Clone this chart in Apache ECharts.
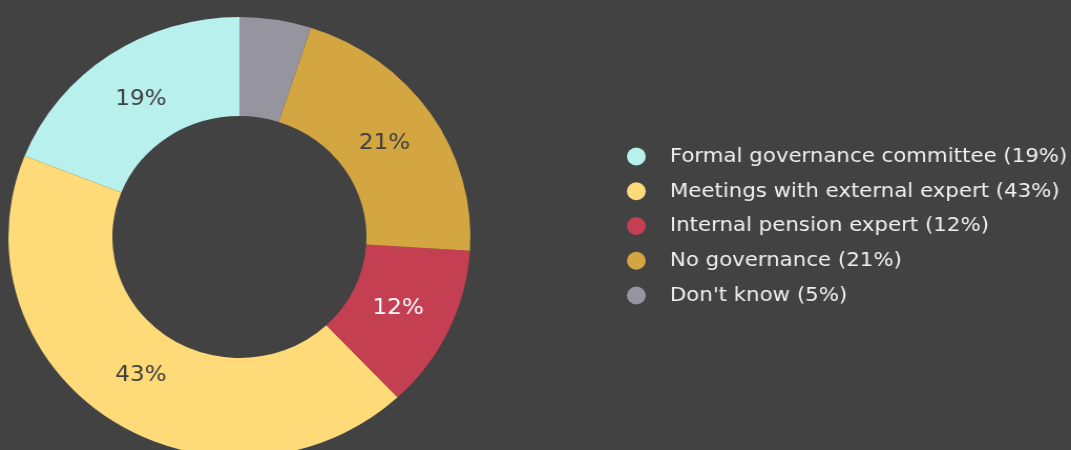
<!DOCTYPE html>
<html>
<head>
<meta charset="utf-8">
<script src="https://cdn.jsdelivr.net/npm/echarts@6/dist/echarts.min.js"></script>
<style>
  html, body { margin: 0; padding: 0; background: #424242; overflow: hidden; }
  #chart { width: 1020px; height: 450px; transform: scaleX(1.05); transform-origin: 0 0; }
</style>
</head>
<body>
<div id="chart"></div>
<script>
// Governance arrangements, share of respondents (%)
const categories = [
  'Formal governance committee',
  'Meetings with external expert',
  'Internal pension expert',
  'No governance',
  "Don't know"
];
const shares = [19, 43, 12, 21, 5];
const sliceColors = ['#b7f0ec', '#fedb78', '#c43f52', '#d3a642', '#95949f'];
const labelColors = ['#404040', '#404040', '#ffffff', '#404040', '#404040'];
const showLabel = [true, true, true, true, false];

const FONT = '"DejaVu Sans", Verdana, sans-serif';

const chart = echarts.init(document.getElementById('chart'), null, { renderer: 'canvas' });

// Ring slices
const sliceData = categories.map((name, i) => ({
  name: name,
  value: shares[i],
  itemStyle: { color: sliceColors[i] }
}));

// Same slices, invisible, carrying the percentage labels a bit nearer the hole
const labelData = categories.map((name, i) => ({
  name: name,
  value: shares[i],
  itemStyle: { color: 'transparent' },
  label: { show: showLabel[i], color: labelColors[i] }
}));

chart.setOption({
  backgroundColor: '#424242',
  animation: false,
  legend: {
    orient: 'vertical',
    left: 592,
    top: 141.5,
    icon: 'circle',
    itemWidth: 18,
    itemHeight: 18,
    itemGap: 14.75,
    data: categories,
    textStyle: {
      color: '#f0f0f0',
      fontSize: 20.3,
      fontFamily: FONT,
      padding: [0, 0, 0, 18]
    },
    formatter: function (name) {
      const i = categories.indexOf(name);
      return name + ' (' + shares[i] + '%)';
    }
  },
  series: [{
    type: 'pie',
    center: [228, 237],
    radius: [121, 220],
    startAngle: 90,
    clockwise: false,
    label: { show: false },
    labelLine: { show: false },
    itemStyle: { borderWidth: 0 },
    emphasis: { disabled: true },
    silent: true,
    data: sliceData
  }, {
    type: 'pie',
    center: [228, 237],
    radius: [121, 207],
    startAngle: 90,
    clockwise: false,
    avoidLabelOverlap: false,
    legendHoverLink: false,
    label: {
      position: 'inside',
      fontSize: 22,
      fontFamily: FONT,
      formatter: '{c}%'
    },
    labelLine: { show: false },
    itemStyle: { borderWidth: 0 },
    emphasis: { disabled: true },
    silent: true,
    data: labelData
  }]
});
</script>
</body>
</html>
